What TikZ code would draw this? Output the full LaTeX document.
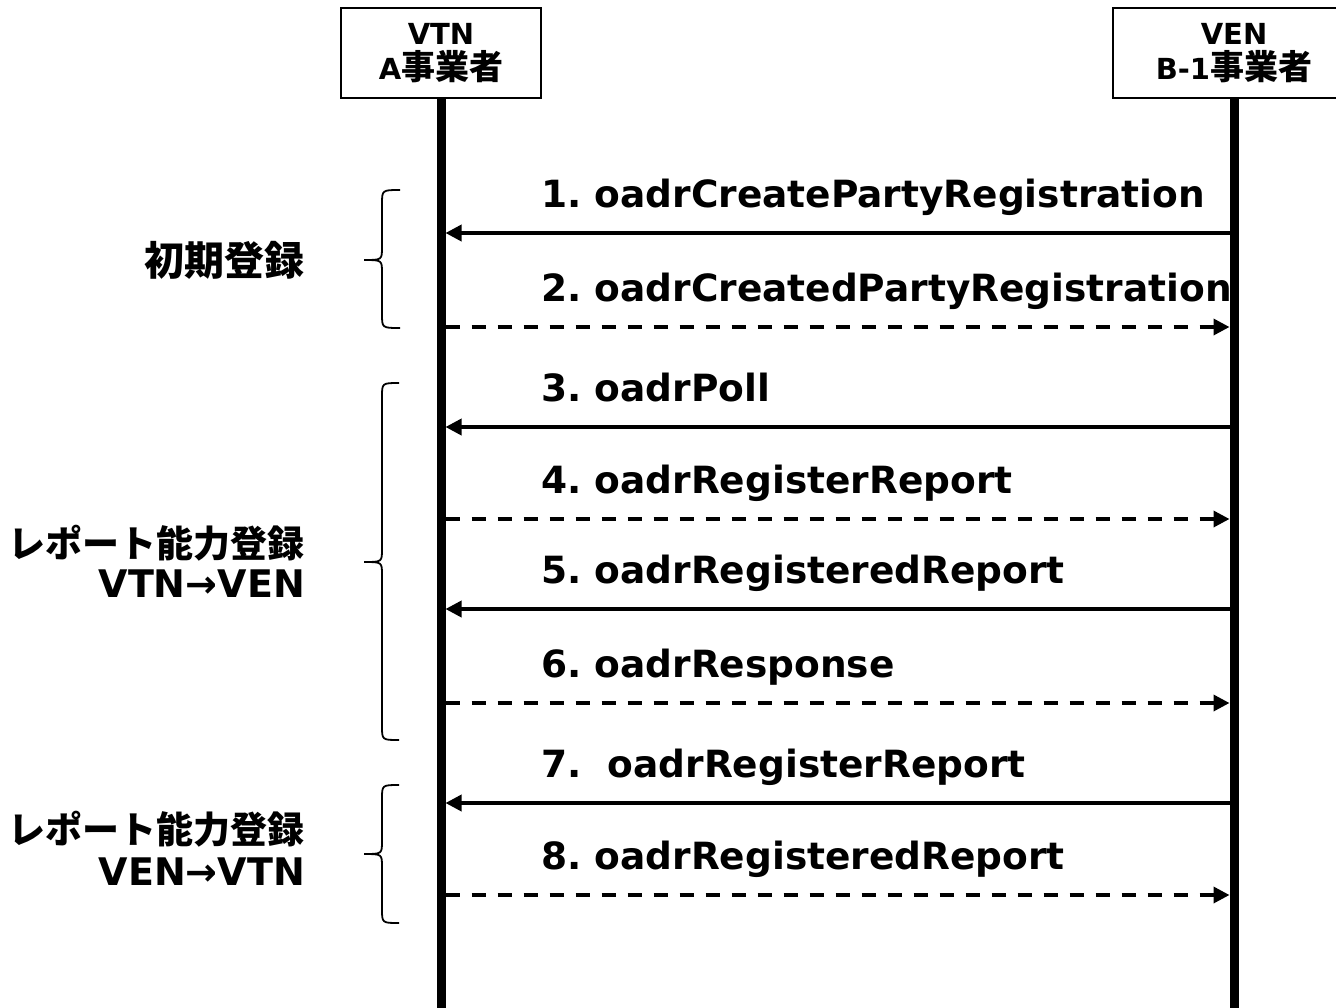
\documentclass[tikz,border=0pt]{standalone}
\usepackage{fontspec}
\setmainfont{DejaVu Sans}
\newfontfamily\jp{Noto Sans CJK JP}
\usetikzlibrary{arrows.meta}
\frenchspacing
\begin{document}
\begin{tikzpicture}[x=1pt,y=-1pt,
  box/.style={draw, line width=2pt, minimum height=90pt, align=center, inner sep=0pt,
    font=\bfseries\fontsize{29}{35}\selectfont},
  life/.style={line width=9pt},
  msg/.style={line width=3.5pt, -{Triangle[length=16pt,width=16pt]}},
  reply/.style={msg, dash pattern=on 14pt off 12pt},
  lbl/.style={anchor=base west, inner sep=0pt, font=\bfseries\fontsize{37.5}{40}\selectfont},
  side/.style={anchor=base east, inner sep=0pt, font=\bfseries\fontsize{38}{40}\selectfont},
  sidejp/.style={anchor=base east, inner sep=0pt, font=\jp\bfseries\fontsize{37}{40}\selectfont},
  bracel/.style={line width=1.8pt}]
\clip (0,0) rectangle (1336,1007);
\fill[white] (0,0) rectangle (1336,1007);

% participants
\node[box, minimum width=200pt] (vtn) at (441,53) {VTN\\A{\jp\fontsize{34}{35}\selectfont 事業者}};
\node[box, minimum width=242pt] (ven) at (1234,53) {VEN\\B-1{\jp\fontsize{34}{35}\selectfont 事業者}};

% lifelines
\coordinate (vtnend) at (441,1012);
\coordinate (venend) at (1234,1012);
\draw[life] (vtn.south) -- (vtnend);
\draw[life] (ven.south) -- (venend);

% message end points
\foreach \n/\y in {1/233,2/327,3/427,4/519,5/609,6/703,7/803,8/895}{
  \coordinate (L\n) at (445.5,\y);
  \coordinate (R\n) at (1229.5,\y);
}
\draw[msg] (R1) -- (L1);
\draw[reply] (L2) -- (R2);
\draw[msg] (R3) -- (L3);
\draw[reply] (L4) -- (R4);
\draw[msg] (R5) -- (L5);
\draw[reply] (L6) -- (R6);
\draw[msg] (R7) -- (L7);
\draw[reply] (L8) -- (R8);

% message labels
\node[lbl] (t1) at (541,207) {1. oadrCreatePartyRegistration};
\node[lbl] (t2) at (541,301) {2. oadrCreatedPartyRegistration};
\node[lbl] (t3) at (541,401) {3. oadrPoll};
\node[lbl] (t4) at (541,493) {4. oadrRegisterReport};
\node[lbl] (t5) at (541,583) {5. oadrRegisteredReport};
\node[lbl] (t6) at (541,677) {6. oadrResponse};
\node[lbl] (t7) at (541,777) {7.\ \ oadrRegisterReport};
\node[lbl] (t8) at (541,869) {8. oadrRegisteredReport};

% braces
\draw[bracel] (400,190) .. controls (382,190) .. (382,204) -- (382,247)
  .. controls (382,260) .. (364,260) .. controls (382,260) .. (382,273)
  -- (382,314) .. controls (382,328) .. (400,328);
\draw[bracel] (399,383) .. controls (382,383) .. (382,397) -- (382,549)
  .. controls (382,562) .. (364,562) .. controls (382,562) .. (382,575)
  -- (382,726) .. controls (382,740) .. (399,740);
\draw[bracel] (399,785) .. controls (382,785) .. (382,799) -- (382,841)
  .. controls (382,854) .. (364,854) .. controls (382,854) .. (382,867)
  -- (382,909) .. controls (382,923) .. (399,923);

% group labels
\node[sidejp, font=\jp\bfseries\fontsize{40}{40}\selectfont] (g1) at (305,275) {初期登録};
\node[sidejp] (g2a) at (305,557) {レポート能力登録};
\node[side] (g2b) at (305,597) {VTN→VEN};
\node[sidejp] (g3a) at (305,843) {レポート能力登録};
\node[side] (g3b) at (305,885) {VEN→VTN};
\end{tikzpicture}
\end{document}
